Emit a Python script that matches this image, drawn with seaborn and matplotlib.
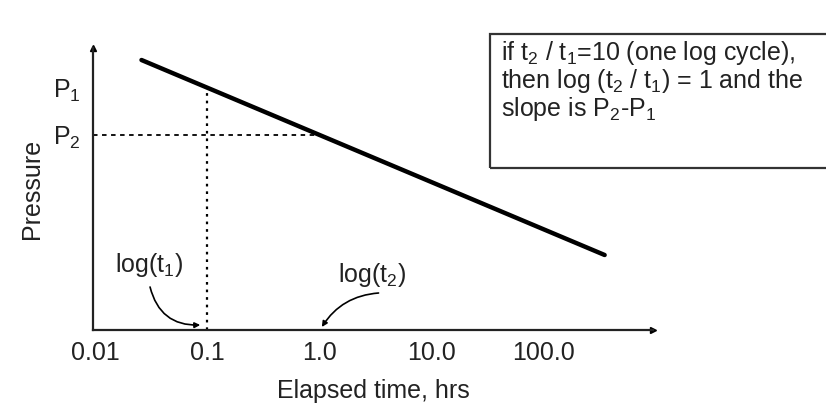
import numpy as np
import pandas as pd
import matplotlib
matplotlib.use("Agg")
import matplotlib.pyplot as plt
from matplotlib.patches import Rectangle
import seaborn as sns

# Semi-log pressure build-up/drawdown line
line_time = [0.026, 355.0]
line_pressure = [270.0, 75.0]

t1, t2 = 0.1, 1.0
p1, p2 = 242.0, 195.0

tick_values = [0.01, 0.1, 1.0, 10.0, 100.0]
tick_labels = ["0.01", "0.1", "1.0", "10.0", "100.0"]

sns.set_theme(style="white")
plt.rcParams["font.family"] = ["Liberation Sans", "DejaVu Sans"]
plt.rcParams["mathtext.fontset"] = "custom"
plt.rcParams["mathtext.rm"] = "Liberation Sans"
plt.rcParams["mathtext.default"] = "regular"

FS = 18
INK = "#222222"

fig = plt.figure(figsize=(8.26, 4.11), dpi=100)
ax = fig.add_axes([93 / 826, 81 / 411, 560 / 826, 282 / 411])

df = pd.DataFrame({"time": line_time, "pressure": line_pressure})
sns.lineplot(data=df, x="time", y="pressure", ax=ax, color="black", lw=3.2)

ax.set_xscale("log")
ax.set_xlim(10 ** -2.018, 10 ** 2.982)
ax.set_ylim(0, 282)

# dotted guides to the line at t1 and p2
ax.plot([t1, t1], [0, p1], color="black", ls=(0, (1.2, 2.2)), lw=1.6)
ax.plot([10 ** -2.018, t2], [p2, p2], color="black", ls=(0, (2.5, 2.5)), lw=1.3)

for s in ["top", "right"]:
    ax.spines[s].set_visible(False)
for s in ["left", "bottom"]:
    ax.spines[s].set_color(INK)
    ax.spines[s].set_linewidth(1.6)

# arrowheads at axis ends
ax.plot(1, 0, marker=">", ms=5, color="black", transform=ax.transAxes, clip_on=False)
ax.plot(0, 1, marker="^", ms=5, color="black", transform=ax.transAxes, clip_on=False)

ax.set_xticks(tick_values)
ax.set_xticklabels(tick_labels)
ax.minorticks_off()
ax.tick_params(axis="x", length=0, pad=8, labelsize=FS, colors=INK)
ax.set_yticks([p1, p2])
ax.set_yticklabels([r"P$_1$", r"P$_2$"])
ax.tick_params(axis="y", length=0, pad=9, labelsize=FS, colors=INK)

ax.set_xlabel("Elapsed time, hrs", fontsize=FS, color=INK, labelpad=10)
ax.set_ylabel("Pressure", fontsize=FS, color=INK, labelpad=6)

# labels for log(t1) and log(t2) with curved pointers to the time axis
ax.text(0.0303, 65, r"log(t$_1$)", ha="center", va="center", fontsize=FS, color=INK)
ax.text(3.0, 55, r"log(t$_2$)", ha="center", va="center", fontsize=FS, color=INK)

pointer = dict(arrowstyle="-|>", color="black", lw=1.2, shrinkA=0, shrinkB=0,
               mutation_scale=8)
ax.annotate("", xy=(0.087, 5), xytext=(0.031, 43),
            arrowprops=dict(pointer, connectionstyle="arc3,rad=0.4"))
ax.annotate("", xy=(1.06, 3), xytext=(3.4, 37),
            arrowprops=dict(pointer, connectionstyle="arc3,rad=0.25"))

# explanatory box
fig.patches.append(Rectangle((490 / 826, 1 - 168 / 411), 0.5, 134 / 411,
                             transform=fig.transFigure, fill=False,
                             edgecolor="#333333", lw=1.6))
box_lines = [
    r"if t$_2$ / t$_1$=10 (one log cycle),",
    r"then log (t$_2$ / t$_1$) = 1 and the",
    r"slope is P$_2$-P$_1$",
]
for i, txt in enumerate(box_lines):
    fig.text(501 / 826, 1 - (53 + 28 * i) / 411, txt, ha="left", va="center",
             fontsize=FS, color=INK)

fig.savefig("out.png", dpi=100)
